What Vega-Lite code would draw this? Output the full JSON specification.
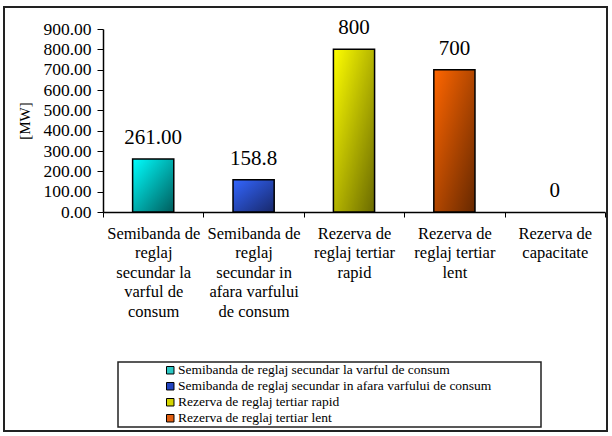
{
  "$schema": "https://vega.github.io/schema/vega-lite/v6.json",
  "width": 603,
  "height": 424,
  "autosize": {"type": "none"},
  "padding": {"left": 4, "top": 7, "right": 5, "bottom": 5},
  "background": "white",
  "config": {
    "view": {"stroke": "#222", "strokeWidth": 2},
    "font": "Liberation Serif",
    "legend": {"strokeWidth": 1.5}
  },
  "data": {
    "values": [
      {"cat": "Semibanda de|reglaj|secundar la|varful de|consum", "series": "Semibanda de reglaj secundar la varful de consum", "value": 261, "label": "261.00"},
      {"cat": "Semibanda de|reglaj|secundar in|afara varfului|de consum", "series": "Semibanda de reglaj secundar in afara varfului de consum", "value": 158.8, "label": "158.8"},
      {"cat": "Rezerva de|reglaj tertiar|rapid", "series": "Rezerva de reglaj tertiar rapid", "value": 800, "label": "800"},
      {"cat": "Rezerva de|reglaj tertiar|lent", "series": "Rezerva de reglaj tertiar lent", "value": 700, "label": "700"},
      {"cat": "Rezerva de|capacitate", "series": "Rezerva de capacitate", "value": 0, "label": "0"}
    ]
  },
  "encoding": {
    "x": {
      "field": "cat", "type": "nominal", "sort": null,
      "scale": {"range": [99, 601], "paddingInner": 0, "paddingOuter": 0},
      "axis": {
        "orient": "bottom", "offset": -219, "title": null,
        "labelExpr": "split(datum.label, '|')",
        "labelAngle": 0, "labelFont": "Liberation Serif", "labelFontSize": 16.5,
        "labelLineHeight": 19.5, "labelColor": "black", "labelLimit": 0, "labelPadding": 8,
        "labelOverlap": false, "labelBound": false,
        "domainColor": "black", "domainWidth": 1.5, "tickColor": "black", "tickSize": 5,
        "tickBand": "extent", "grid": false
      }
    },
    "y": {
      "field": "value", "type": "quantitative",
      "scale": {"domain": [0, 900], "range": [205, 22], "nice": false},
      "axis": {
        "orient": "left", "offset": -99, "title": "[MW]",
        "values": [0, 100, 200, 300, 400, 500, 600, 700, 800, 900],
        "format": ".2f", "labelFont": "Liberation Serif", "labelFontSize": 17.5,
        "labelColor": "black", "labelPadding": 6, "labelOverlap": false,
        "titleFont": "Liberation Serif", "titleFontSize": 15, "titleFontWeight": "normal",
        "titleColor": "black", "titlePadding": 10,
        "domainColor": "black", "domainWidth": 1.5, "tickColor": "black", "tickSize": 6, "grid": false
      }
    }
  },
  "layer": [
    {
      "transform": [{"filter": "datum.value > 0"}],
      "mark": {"type": "bar", "width": {"band": 0.41}},
      "encoding": {
        "fill": {
          "field": "series", "type": "nominal", "sort": null,
          "scale": {
            "domain": ["Semibanda de reglaj secundar la varful de consum", "Semibanda de reglaj secundar in afara varfului de consum", "Rezerva de reglaj tertiar rapid", "Rezerva de reglaj tertiar lent"],
            "range": ["#2cc8c4", "#2244c0", "#d4d400", "#e05e10"]
          },
          "legend": {
            "orient": "none", "legendX": 114, "legendY": 355,
            "title": "\u00a0", "titleOrient": "left", "titlePadding": 44,
            "padding": 1.5, "strokeColor": "#222",
            "symbolType": "square", "symbolSize": 56, "symbolStrokeColor": "black", "symbolStrokeWidth": 1,
            "labelFont": "Liberation Serif", "labelFontSize": 13.5, "labelColor": "black", "labelLimit": 0,
            "labelOffset": 1, "rowPadding": 1,
            "labelExpr": "datum.label + '\u2003\u2003\u2003\u2002\u200b'"
          }
        }
      }
    },
    {
      "transform": [{"filter": "datum.value > 0"}],
      "mark": {"type": "bar", "width": {"band": 0.41}, "stroke": "black", "strokeWidth": 1.5},
      "encoding": {
        "fill": {
          "condition": [
            {"test": "datum.series === 'Semibanda de reglaj secundar la varful de consum'", "value": {"gradient": "linear", "x1": 0, "y1": 0, "x2": 1, "y2": 1, "stops": [{"offset": 0, "color": "#00ffff"}, {"offset": 1, "color": "#005c5c"}]}},
            {"test": "datum.series === 'Semibanda de reglaj secundar in afara varfului de consum'", "value": {"gradient": "linear", "x1": 0, "y1": 0, "x2": 1, "y2": 1, "stops": [{"offset": 0, "color": "#3366ff"}, {"offset": 1, "color": "#18286a"}]}},
            {"test": "datum.series === 'Rezerva de reglaj tertiar rapid'", "value": {"gradient": "linear", "x1": 0, "y1": 0, "x2": 1, "y2": 1, "stops": [{"offset": 0, "color": "#ffff00"}, {"offset": 1, "color": "#6a6a00"}]}}
          ],
          "value": {"gradient": "linear", "x1": 0, "y1": 0, "x2": 1, "y2": 1, "stops": [{"offset": 0, "color": "#ff6600"}, {"offset": 1, "color": "#662800"}]}
        }
      }
    },
    {
      "mark": {"type": "text", "baseline": "alphabetic", "dy": -15, "fontSize": 21, "font": "Liberation Serif", "color": "black"},
      "encoding": {"text": {"field": "label"}}
    }
  ]
}
